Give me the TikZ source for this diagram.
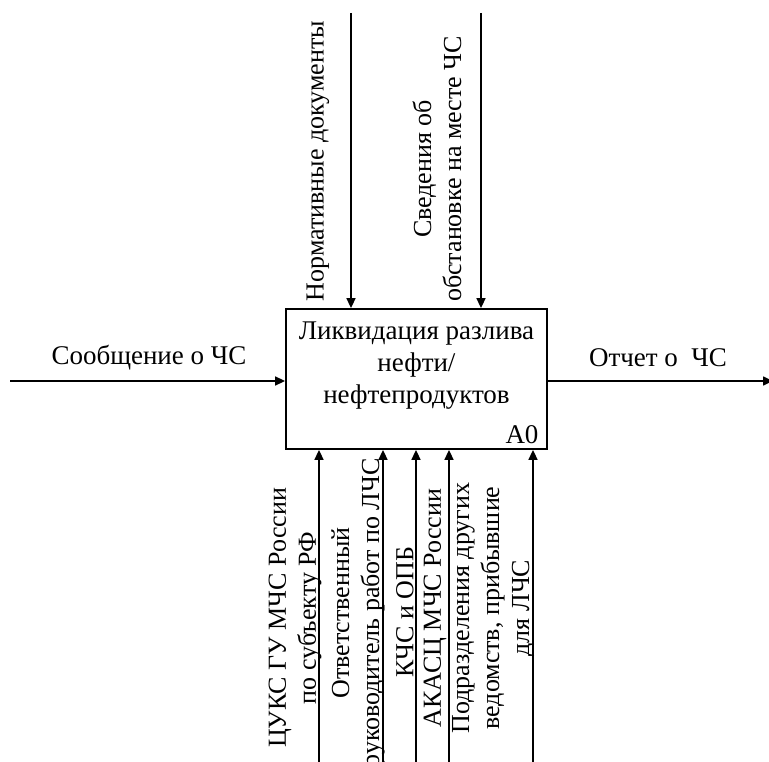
\documentclass[tikz,border=0pt]{standalone}
\usepackage{fontspec}
\setmainfont{Liberation Serif}
\usetikzlibrary{arrows.meta}
\begin{document}
\begin{tikzpicture}[x=1pt,y=-1pt,
  txt/.style={font=\fontsize{27}{32}\selectfont, inner sep=0pt, align=center},
  vtxt/.style={font=\fontsize{26}{30}\selectfont, inner sep=0pt, align=center, rotate=90},
  arr/.style={line width=1.6pt, -{Triangle[length=10pt,width=9pt]}},
  func/.style={draw, line width=1.8pt, minimum width=261pt, minimum height=140pt, inner sep=0pt}
]
\clip (0,0) rectangle (769,762);
\fill[white] (0,0) rectangle (769,762);

% activity box
\node[func] (box) at (416.5,379) {};
\node[txt] (title) at (416.5,366) {Ликвидация разлива\\нефти/\\нефтепродуктов};
\node[txt] (code) at (522,435) {A0};

% input and output
\coordinate (in0) at (10,381);
\coordinate (out1) at (773,381);
\draw[arr] (in0) -- (box.west |- in0);
\draw[arr] (box.east |- out1) -- (out1);
\node[txt] (inlbl) at (149,358) {Сообщение о ЧС};
\node[txt] (outlbl) at (658,358) {Отчет о\ \ ЧС};

% controls
\coordinate (c1) at (351,13);
\coordinate (c2) at (481,13);
\draw[arr] (c1) -- (c1 |- box.north);
\draw[arr] (c2) -- (c2 |- box.north);
\node[vtxt] (c1lbl) at (318,161) {Нормативные документы};
\node[vtxt] (c2lbl) at (437,169) {Сведения об\\обстановке на месте ЧС};

% mechanisms
\foreach \n/\x in {m1/319, m2/383, m3/416, m4/449, m5/533} {
  \coordinate (\n) at (\x,775);
  \draw[arr] (\n) -- (\n |- box.south);
}
\node[vtxt] (m1lbl) at (295,618) {ЦУКС ГУ МЧС России\\по субъекту РФ};
\node[vtxt] (m2lbl) at (358,613) {Ответственный\\руководитель работ по ЛЧС};
\node[vtxt] (m3lbl) at (405,612) {КЧС и ОПБ};
\node[vtxt] (m4lbl) at (435,608) {АКАСЦ МЧС России};
\node[vtxt] (m5lbl) at (493,608) {Подразделения других\\ведомств, прибывшие\\для ЛЧС};
\end{tikzpicture}
\end{document}
